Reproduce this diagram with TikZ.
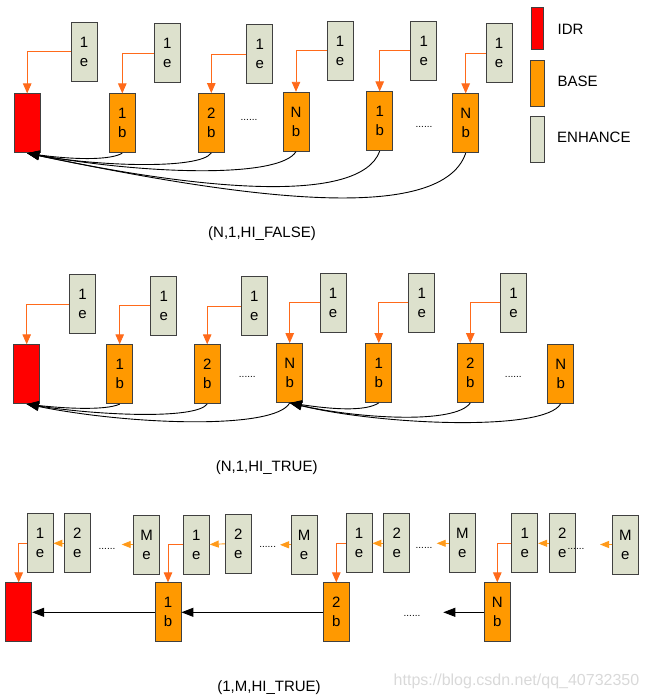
\documentclass[tikz,border=0pt]{standalone}
\usepackage{fontspec}
\setmainfont{Liberation Sans}
\usepackage{xcolor}
\usetikzlibrary{arrows.meta,calc}

\definecolor{idrred}{HTML}{FF0000}
\definecolor{baseorange}{HTML}{FF9900}
\definecolor{enhgray}{HTML}{DDE1CD}
\definecolor{linkred}{HTML}{FF6A1A}
\definecolor{linkgold}{HTML}{FF9A1A}

\begin{document}
\begin{tikzpicture}[
    x=1pt, y=-1pt,
    font=\fontsize{15}{19}\selectfont,
    unit/.style={draw=black!75, line width=0.8pt, minimum width=26pt,
        minimum height=59pt, inner sep=0pt, align=center},
    idrbox/.style={unit, fill=idrred},
    basebox/.style={unit, fill=baseorange},
    enhbox/.style={unit, fill=enhgray},
    dots/.style={font=\fontsize{10}{12}\selectfont, inner sep=0pt},
    uplink/.style={draw=linkred, line width=0.9pt,
        -{Triangle[length=10pt,width=8.5pt]}},
    enhlink/.style={draw=linkgold, line width=0.9pt,
        -{Triangle[length=9pt,width=7pt]}},
    reflink/.style={draw=black, line width=0.9pt,
        -{Triangle[length=12pt,width=9pt]}}
]
    \useasboundingbox (0,0) rectangle (648,699);

    % Legend
    \node[idrbox, minimum width=12pt, minimum height=42pt] (key-idr) at (537,28) {};
    \node[basebox, minimum width=14pt, minimum height=46pt] (key-base) at (537,83) {};
    \node[enhbox, minimum width=14pt, minimum height=46pt] (key-enh) at (537,139) {};
    \node[anchor=west, inner sep=0pt] (lbl-idr) at (557.5,29.3) {IDR};
    \node[anchor=west, inner sep=0pt] (lbl-base) at (557.5,81.7) {BASE};
    \node[anchor=west, inner sep=0pt] (lbl-enh) at (557,137.3) {ENHANCE};

    % (N,1,HI_FALSE): base layer
    \node[idrbox] (f-idr) at (27.2,123.3) {};
    \node[basebox] (f-b1) at (122.3,123.3) {1\\b};
    \node[basebox] (f-b2) at (211.3,123) {2\\b};
    \node[basebox] (f-bN) at (296,121.7) {N\\b};
    \node[basebox] (f-b1x) at (379.7,121.3) {1\\b};
    \node[basebox] (f-bNx) at (465.7,123.3) {N\\b};
    \node[dots] (f-dots1) at (249,120) {......};
    \node[dots] (f-dots2) at (424,126.7) {......};

    % (N,1,HI_FALSE): enhancement layer
    \node[enhbox] (f-e1) at (84,51.7) {1\\e};
    \node[enhbox] (f-e2) at (167.3,53) {1\\e};
    \node[enhbox] (f-e3) at (259.7,54) {1\\e};
    \node[enhbox] (f-e4) at (340,50.7) {1\\e};
    \node[enhbox] (f-e5) at (423.7,50.7) {1\\e};
    \node[enhbox] (f-e6) at (499,53.3) {1\\e};

    \draw[uplink] (f-e1.west) -| (f-idr.north);
    \draw[uplink] (f-e2.west) -| (f-b1.north);
    \draw[uplink] (f-e3.west) -| (f-b2.north);
    \draw[uplink] (f-e4.west) -| (f-bN.north);
    \draw[uplink] (f-e5.west) -| (f-b1x.north);
    \draw[uplink] (f-e6.west) -| (f-bNx.north);

    % every base frame refers to the IDR
    \draw[reflink] (f-b1.south) .. controls (107,162) and (60,158) .. (f-idr.south);
    \draw[reflink] (f-b2.south) .. controls (200,170) and (95,166) .. (f-idr.south);
    \draw[reflink] (f-bN.south) .. controls (280,178) and (150,175) .. (f-idr.south);
    \draw[reflink] (f-b1x.south) .. controls (360,205) and (200,190) .. (f-idr.south);
    \draw[reflink] (f-bNx.south) .. controls (440,228) and (227,195) .. (f-idr.south);

    \node[anchor=base] (f-title) at (262,237.3) {(N,1,HI\_FALSE)};

    % (N,1,HI_TRUE): base layer
    \node[idrbox] (t-idr) at (26.7,374.2) {};
    \node[basebox] (t-b1) at (119.7,374.2) {1\\b};
    \node[basebox] (t-b2) at (207.2,374.2) {2\\b};
    \node[basebox] (t-bN) at (289.7,373) {N\\b};
    \node[basebox] (t-b1x) at (378.8,373) {1\\b};
    \node[basebox] (t-b2x) at (470.3,373) {2\\b};
    \node[basebox] (t-bNx) at (560.7,373.8) {N\\b};
    \node[dots] (t-dots1) at (247.3,376.7) {......};
    \node[dots] (t-dots2) at (513.3,376.7) {......};

    % (N,1,HI_TRUE): enhancement layer
    \node[enhbox] (t-e1) at (82.5,304) {1\\e};
    \node[enhbox] (t-e2) at (163.8,305.5) {1\\e};
    \node[enhbox] (t-e3) at (254.3,306.2) {1\\e};
    \node[enhbox] (t-e4) at (333,302.8) {1\\e};
    \node[enhbox] (t-e5) at (421.8,302.8) {1\\e};
    \node[enhbox] (t-e6) at (513.5,302.8) {1\\e};

    \draw[uplink] (t-e1.west) -| (t-idr.north);
    \draw[uplink] (t-e2.west) -| (t-b1.north);
    \draw[uplink] (t-e3.west) -| (t-b2.north);
    \draw[uplink] (t-e4.west) -| (t-bN.north);
    \draw[uplink] (t-e5.west) -| (t-b1x.north);
    \draw[uplink] (t-e6.west) -| (t-b2x.north);

    % references restart at the N-th base frame
    \draw[reflink] (t-b1.south) .. controls (105,411) and (60,408) .. (t-idr.south);
    \draw[reflink] (t-b2.south) .. controls (195,420) and (95,415) .. (t-idr.south);
    \draw[reflink] (t-bN.south) .. controls (275,430) and (130,425) .. (t-idr.south);
    \draw[reflink] (t-b1x.south) .. controls (365,412) and (330,409) .. (t-bN.south);
    \draw[reflink] (t-b2x.south) .. controls (455,425) and (355,418) .. (t-bN.south);
    \draw[reflink] (t-bNx.south) .. controls (545,432) and (380,425) .. (t-bN.south);

    \node[anchor=base] (t-title) at (266.7,471.7) {(N,1,HI\_TRUE)};

    % (1,M,HI_TRUE): base layer
    \node[idrbox] (m-idr) at (18.7,612.3) {};
    \node[basebox] (m-b1) at (168,612.3) {1\\b};
    \node[basebox] (m-b2) at (336.3,612.3) {2\\b};
    \node[basebox] (m-bN) at (497.3,612.3) {N\\b};
    \node[dots] (m-dots) at (412,616) {......};
    \coordinate (m-gap) at (443.3,612.3);

    \draw[reflink] (m-b1.west) -- (m-idr.east);
    \draw[reflink] (m-b2.west) -- (m-b1.east);
    \draw[reflink] (m-bN.west) -- (m-gap);

    % (1,M,HI_TRUE): enhancement layers
    \node[enhbox] (m-e1a) at (40,543.3) {1\\e};
    \node[enhbox] (m-e2a) at (77.3,543.3) {2\\e};
    \node[enhbox] (m-eMa) at (146.5,544.5) {M\\e};
    \node[enhbox] (m-e1b) at (196.3,544.5) {1\\e};
    \node[enhbox] (m-e2b) at (238.3,543.8) {2\\e};
    \node[enhbox] (m-eMb) at (304,544.8) {M\\e};
    \node[enhbox] (m-e1c) at (359,543.3) {1\\e};
    \node[enhbox] (m-e2c) at (396.7,543.3) {2\\e};
    \node[enhbox] (m-eMc) at (462.3,543.3) {M\\e};
    \node[enhbox] (m-e1d) at (524.7,543.3) {1\\e};
    \node[enhbox] (m-e2d) at (562.3,543.3) {2\\e};
    \node[enhbox] (m-eMd) at (625.3,544.5) {M\\e};
    \node[dots] (m-edots1) at (107,549) {......};
    \node[dots] (m-edots2) at (267.7,547.3) {......};
    \node[dots] (m-edots3) at (424,548.3) {......};
    \node[dots] (m-edots4) at (576,549) {......};
    \coordinate (m-tipa) at (121.7,544.5);
    \coordinate (m-tipb) at (280,544.8);
    \coordinate (m-tipc) at (436.7,543.3);
    \coordinate (m-tipd) at (600,544.5);

    \draw[enhlink] (m-e2a.west) -- (m-e1a.east);
    \draw[enhlink] (m-eMa.west) -- (m-tipa);
    \draw[enhlink] (m-e2b.west) -- (m-e1b.east);
    \draw[enhlink] (m-eMb.west) -- (m-tipb);
    \draw[enhlink] (m-e2c.west) -- (m-e1c.east);
    \draw[enhlink] (m-eMc.west) -- (m-tipc);
    \draw[enhlink] (m-e2d.west) -- (m-e1d.east);
    \draw[enhlink] (m-eMd.west) -- (m-tipd);

    \draw[uplink] (m-e1a.west) -| (m-idr.north);
    \draw[uplink] (m-e1b.west) -| (m-b1.north);
    \draw[uplink] (m-e1c.west) -| (m-b2.north);
    \draw[uplink] (m-e1d.west) -| (m-bN.north);

    \node[anchor=base] (m-title) at (269,691) {(1,M,HI\_TRUE)};

    % Watermark
    \node[font=\fontsize{16}{19}\selectfont, text=gray!30] (mark) at (516.5,681) {https://blog.csdn.net/qq\_40732350};
\end{tikzpicture}
\end{document}
